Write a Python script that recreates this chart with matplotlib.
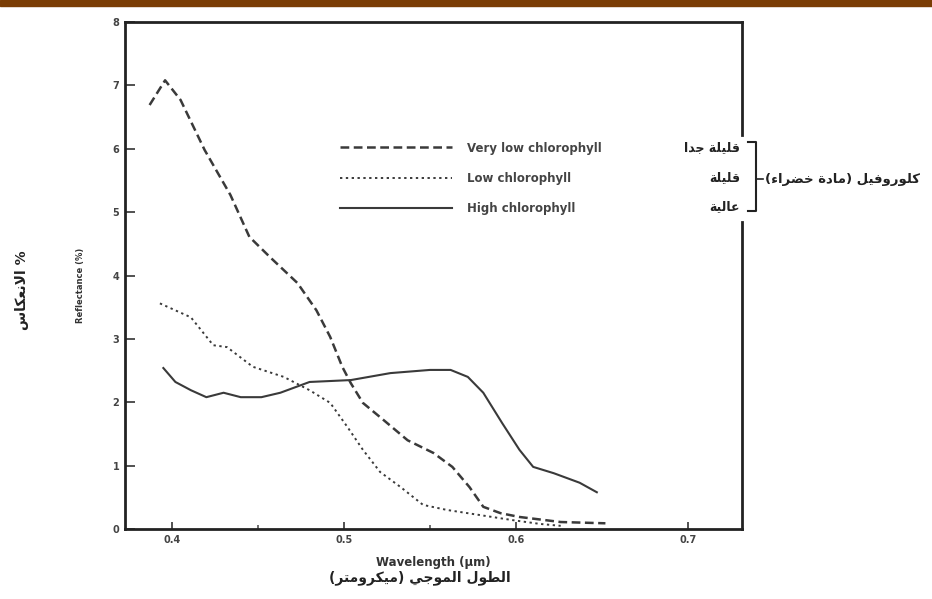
import matplotlib
matplotlib.use("Agg")
import matplotlib.pyplot as plt
from matplotlib.lines import Line2D
from matplotlib.patches import Rectangle

plt.rcParams['font.family'] = ['DejaVu Sans']

# ===== data =====
wl_very_low = [0.387, 0.396, 0.405, 0.419, 0.434, 0.445, 0.457, 0.473, 0.484, 0.492,
               0.499, 0.504, 0.511, 0.523, 0.537, 0.552, 0.563, 0.573, 0.581, 0.591,
               0.602, 0.626, 0.652]
refl_very_low = [6.69, 7.08, 6.77, 5.98, 5.27, 4.61, 4.29, 3.88, 3.45, 3.03,
                 2.56, 2.30, 1.99, 1.72, 1.40, 1.20, 0.98, 0.66, 0.35, 0.25,
                 0.19, 0.11, 0.09]

wl_low = [0.393, 0.411, 0.424, 0.432, 0.447, 0.465, 0.480, 0.492, 0.502, 0.511,
          0.521, 0.533, 0.546, 0.560, 0.579, 0.598, 0.614, 0.626]
refl_low = [3.56, 3.34, 2.90, 2.87, 2.56, 2.40, 2.19, 1.99, 1.61, 1.25,
            0.90, 0.66, 0.38, 0.30, 0.22, 0.14, 0.08, 0.05]

wl_high = [0.395, 0.402, 0.411, 0.420, 0.430, 0.440, 0.452, 0.463, 0.480, 0.504,
           0.527, 0.550, 0.562, 0.572, 0.581, 0.592, 0.602, 0.610, 0.622, 0.637, 0.647]
refl_high = [2.54, 2.32, 2.19, 2.08, 2.15, 2.08, 2.08, 2.15, 2.32, 2.35,
             2.46, 2.51, 2.51, 2.40, 2.15, 1.67, 1.25, 0.98, 0.88, 0.73, 0.58]

labels_en = ["Very low chlorophyll", "Low chlorophyll", "High chlorophyll"]
labels_ar = ["قليلة جدا", "قليلة", "عالية"]
x_ticks = [0.4, 0.5, 0.6, 0.7]
y_ticks = [0, 1, 2, 3, 4, 5, 6, 7, 8]

# ===== tiny arabic shaper (no reshaper lib available) =====
DUAL = {'ب': 0xFE8F, 'ت': 0xFE95, 'ج': 0xFE9D, 'ح': 0xFEA1, 'خ': 0xFEA5, 'س': 0xFEB1,
        'ض': 0xFEBD, 'ط': 0xFEC1, 'ع': 0xFEC9, 'ف': 0xFED1, 'ق': 0xFED5, 'ك': 0xFED9,
        'ل': 0xFEDD, 'م': 0xFEE1, 'ن': 0xFEE5, 'ه': 0xFEE9, 'ي': 0xFEF1}
RIGHT = {'ا': 0xFE8D, 'د': 0xFEA9, 'ر': 0xFEAD, 'و': 0xFEED, 'ة': 0xFE93}


def ar(s):
    out = []
    i = 0
    while i < len(s):
        c = s[i]
        prev_j = i > 0 and s[i - 1] in DUAL
        if c == 'ل' and i + 1 < len(s) and s[i + 1] == 'ا':
            out.append(chr(0xFEFC if prev_j else 0xFEFB))
            i += 2
            continue
        nxt = s[i + 1] if i + 1 < len(s) else ''
        if c in DUAL:
            next_j = nxt in DUAL or nxt in RIGHT
            k = 3 if (prev_j and next_j) else 1 if prev_j else 2 if next_j else 0
            out.append(chr(DUAL[c] + k))
        elif c in RIGHT:
            out.append(chr(RIGHT[c] + (1 if prev_j else 0)))
        else:
            out.append(c)
        i += 1
    return ''.join(reversed(out)).translate(str.maketrans('()', ')('))


# ===== figure =====
W, H = 932, 599
fig = plt.figure(figsize=(W / 100, H / 100), dpi=100)
fig.patches.append(Rectangle((0, 1 - 6 / H), 1, 6 / H, transform=fig.transFigure,
                             color='#7a3d05', zorder=5))

ax = fig.add_axes([125 / W, 70 / H, 617 / W, 507 / H])
line_col = '#3a3a3a'
l1, = ax.plot(wl_very_low, refl_very_low, color=line_col, lw=1.8, ls=(0, (3.5, 1.8)),
              dash_joinstyle='round')
l2, = ax.plot(wl_low, refl_low, color=line_col, lw=1.4, ls=(0, (1.2, 1.8)),
              dash_joinstyle='round')
l3, = ax.plot(wl_high, refl_high, color=line_col, lw=1.5, ls='-', solid_joinstyle='round')

ax.set_xlim(0.3727, 0.7314)
ax.set_ylim(0, 8)
ax.set_xticks(x_ticks)
ax.set_xticks([0.45, 0.55], minor=True)
ax.set_yticks(y_ticks)
ax.tick_params(direction='in', length=7, width=1.2, colors='#333333',
               labelsize=7, pad=4, labelcolor='#444444')
ax.tick_params(axis='x', length=5)
ax.tick_params(axis='x', which='minor', direction='in', length=3, width=1.2, color='#555555')
for t in ax.get_xticklabels() + ax.get_yticklabels():
    t.set_fontweight('bold')

for s in ['left', 'bottom', 'top']:
    ax.spines[s].set_linewidth(2.0)
    ax.spines[s].set_color('#222222')
ax.spines['right'].set_visible(False)
# right frame is broken where the arabic legend sits
ax.axvline(0.7314, 0.0, 0.606, color='#222222', lw=2.0, clip_on=False)
ax.axvline(0.7314, 0.777, 1.0, color='#222222', lw=2.0, clip_on=False)

leg = ax.legend([l1, l2, l3], labels_en, loc='center left', bbox_to_anchor=(0.348, 0.692),
                frameon=False, borderpad=0, borderaxespad=0, handlelength=9.5,
                handletextpad=1.3, labelspacing=1.45,
                prop={'size': 8.5, 'weight': 'bold'}, labelcolor='#444444')

# arabic legend labels + bracket
for lab, ypx in zip(labels_ar, [148, 178, 207]):
    fig.text(740 / W, 1 - ypx / H, ar(lab), ha='right', va='center', fontsize=9,
             fontweight='bold', color='#222222')
bx = [748 / W, 756 / W, 756 / W, 748 / W]
by = [1 - 142 / H, 1 - 142 / H, 1 - 211 / H, 1 - 211 / H]
fig.add_artist(Line2D(bx, by, transform=fig.transFigure, color='#222222', lw=1.5))
fig.add_artist(Line2D([756 / W, 763 / W], [1 - 179 / H, 1 - 179 / H],
                      transform=fig.transFigure, color='#222222', lw=1.2))
fig.text(765 / W, 1 - 179 / H, ar("كلوروفيل (مادة خضراء)"), ha='left', va='center',
         fontsize=9.5, fontweight='bold', color='#222222')

# axis labels
ax.set_xlabel("Wavelength (µm)", fontsize=8.5, fontweight='bold', color='#333333', labelpad=8)
fig.text(420 / W, 1 - 578 / H, ar("الطول الموجي (ميكرومتر)"), ha='center', va='center',
         fontsize=10, fontweight='bold', color='#222222')
fig.text(80 / W, 1 - 285 / H, "Reflectance (%)", rotation=90, ha='center', va='center',
         fontsize=6, fontweight='bold', color='#333333')
fig.text(22 / W, 1 - 290 / H, ar("% الانعكاس"), rotation=90, ha='center', va='center',
         fontsize=10, fontweight='bold', color='#222222')

fig.savefig("out.png", dpi=100)
